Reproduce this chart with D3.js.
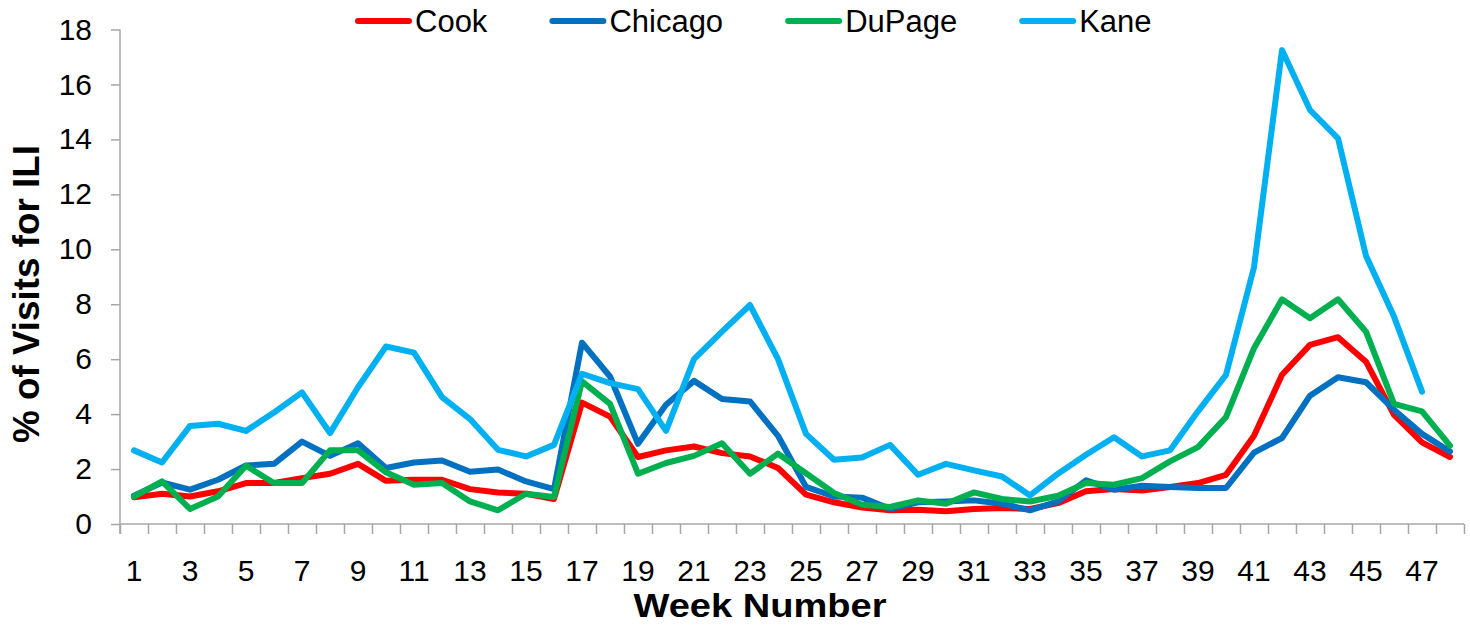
<!DOCTYPE html>
<html>
<head>
<meta charset="utf-8">
<script src="https://cdn.jsdelivr.net/npm/d3@7"></script>
<style>
  html, body { margin: 0; padding: 0; background: #fff; }
  svg { display: block; font-family: "Liberation Sans", Arial, sans-serif; }
</style>
</head>
<body>
<svg id="chart" width="1470" height="625"></svg>
<script>
const weeks = d3.range(1, 49);
const seriesNames = ["Cook", "Chicago", "DuPage", "Kane"];
const seriesColors = ["#FF0000", "#0070C0", "#00B050", "#00B0F0"];
const cook = [0.97,1.10,1.00,1.19,1.49,1.49,1.67,1.83,2.19,1.57,1.61,1.61,1.27,1.15,1.10,0.91,4.42,3.91,2.44,2.68,2.82,2.58,2.46,2.04,1.07,0.79,0.60,0.50,0.52,0.46,0.55,0.58,0.55,0.76,1.19,1.27,1.22,1.35,1.49,1.79,3.21,5.43,6.52,6.80,5.91,3.97,2.97,2.44];
const chicago = [1.03,1.51,1.25,1.61,2.13,2.19,3.00,2.48,2.94,2.04,2.24,2.31,1.90,1.98,1.55,1.27,6.60,5.37,2.92,4.34,5.21,4.55,4.46,3.21,1.35,1.00,0.96,0.55,0.79,0.82,0.86,0.74,0.50,0.82,1.59,1.25,1.39,1.35,1.31,1.31,2.60,3.13,4.67,5.34,5.16,4.16,3.28,2.64];
const dupage = [1.00,1.55,0.55,1.00,2.12,1.49,1.49,2.68,2.68,1.88,1.43,1.49,0.82,0.50,1.10,0.98,5.19,4.37,1.83,2.22,2.48,2.94,1.83,2.56,1.85,1.13,0.70,0.62,0.86,0.74,1.15,0.91,0.82,1.03,1.49,1.43,1.67,2.28,2.80,3.89,6.40,8.18,7.49,8.18,7.00,4.37,4.10,2.85];
const kane = [2.68,2.24,3.57,3.65,3.39,4.06,4.79,3.31,4.98,6.46,6.24,4.62,3.82,2.70,2.46,2.88,5.47,5.13,4.91,3.39,6.00,7.00,7.97,6.00,3.28,2.34,2.42,2.88,1.79,2.19,1.95,1.73,1.04,1.83,2.52,3.16,2.46,2.68,4.10,5.43,9.35,17.25,15.07,14.04,9.76,7.55,4.82];
const yTicks = [0,2,4,6,8,10,12,14,16,18];
const xTickLabels = weeks.filter(w => w % 2 === 1);
const yTitle = "% of Visits for ILI";
const xTitle = "Week Number";

const allSeries = [cook, chicago, dupage, kane];

const svg = d3.select("#chart");
const plotLeft = 120, plotRight = 1464, plotTop = 29.5, plotBottom = 524;
const axisColor = "#A6A6A6";

const x = d3.scaleBand().domain(weeks).range([plotLeft, plotRight]).padding(0);
const xEdge = d3.scaleLinear().domain([0, weeks.length]).range([plotLeft, plotRight]);
const y = d3.scaleLinear().domain([0, 18]).range([plotBottom, plotTop]);

// Y axis
const yAxis = svg.append("g").attr("transform", `translate(${plotLeft},0)`)
  .call(d3.axisLeft(y).tickValues(yTicks).tickSize(9).tickPadding(19).tickSizeOuter(0));
yAxis.select(".domain").attr("stroke", axisColor).attr("stroke-width", 1.5)
  .attr("d", `M0,${plotTop}V${plotBottom + 10}`);
yAxis.selectAll(".tick line").attr("stroke", axisColor).attr("stroke-width", 1.5);
yAxis.selectAll(".tick text").attr("font-size", 30).attr("fill", "#000")
  .style("font-family", "'Liberation Sans', Arial, sans-serif");

// X axis boundary ticks
const xTicksG = svg.append("g").attr("transform", `translate(0,${plotBottom})`)
  .call(d3.axisBottom(xEdge).tickValues(d3.range(0, weeks.length + 1)).tickSize(10).tickFormat("").tickSizeOuter(0));
xTicksG.select(".domain").attr("stroke", axisColor).attr("stroke-width", 1.5)
  .attr("d", `M${plotLeft},0H${plotRight}`);
xTicksG.selectAll(".tick line").attr("stroke", axisColor).attr("stroke-width", 1.5);

// X axis labels
const xLab = svg.append("g").attr("transform", `translate(0,${plotBottom})`)
  .call(d3.axisBottom(x).tickValues(xTickLabels).tickSize(0).tickPadding(36));
xLab.select(".domain").remove();
xLab.selectAll(".tick text").attr("font-size", 30).attr("fill", "#000")
  .style("font-family", "'Liberation Sans', Arial, sans-serif");

// Lines
const line = d3.line()
  .x((d, i) => x(weeks[i]) + x.bandwidth() / 2)
  .y(d => y(d));

allSeries.forEach((s, k) => {
  svg.append("path")
    .datum(s)
    .attr("fill", "none")
    .attr("stroke", seriesColors[k])
    .attr("stroke-width", 6)
    .attr("stroke-linejoin", "round")
    .attr("stroke-linecap", "round")
    .attr("d", line);
});

// Titles
svg.append("text")
  .attr("transform", `translate(39,294) rotate(-90)`)
  .attr("text-anchor", "middle")
  .attr("font-size", 36).attr("font-weight", "bold")
  .attr("textLength", 298).attr("lengthAdjust", "spacingAndGlyphs")
  .text(yTitle);

svg.append("text")
  .attr("x", 760).attr("y", 617)
  .attr("text-anchor", "middle")
  .attr("font-size", 34).attr("font-weight", "bold")
  .attr("textLength", 253).attr("lengthAdjust", "spacingAndGlyphs")
  .text(xTitle);

// Legend
const legend = svg.append("g");
let lx = 355;
const ly = 21;
seriesNames.forEach((name, k) => {
  legend.append("line")
    .attr("x1", lx + 3).attr("x2", lx + 54)
    .attr("y1", ly).attr("y2", ly)
    .attr("stroke", seriesColors[k]).attr("stroke-width", 6)
    .attr("stroke-linecap", "round");
  const t = legend.append("text")
    .attr("x", lx + 60).attr("y", ly + 11)
    .attr("font-size", 31).attr("fill", "#000")
    .text(name);
  const w = t.node().getComputedTextLength();
  lx = lx + 60 + w + 62;
});
</script>
</body>
</html>
